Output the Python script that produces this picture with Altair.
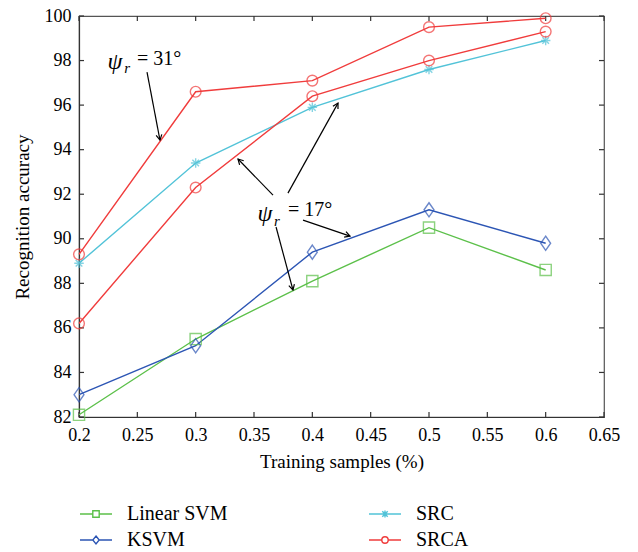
import altair as alt
import pandas as pd
import math

# ---- data ----
x_vals = [0.2, 0.3, 0.4, 0.5, 0.6]
linear_svm = [82.1, 85.5, 88.1, 90.5, 88.6]
ksvm = [83.0, 85.2, 89.4, 91.3, 89.8]
src = [88.9, 93.4, 95.9, 97.6, 98.9]
srca_31 = [89.3, 96.6, 97.1, 99.5, 99.9]
srca_17 = [86.2, 92.3, 96.4, 98.0, 99.3]

series_names = ["Linear SVM", "KSVM", "SRC", "SRCA"]
series_colors = ["#5cc04a", "#2c55b4", "#52c3d8", "#f03c3c"]

x_ticks = [0.2, 0.25, 0.3, 0.35, 0.4, 0.45, 0.5, 0.55, 0.6, 0.65]
y_ticks = [82, 84, 86, 88, 90, 92, 94, 96, 98, 100]

# annotation arrows (data units): start x, start y, end x, end y
arrow_x0 = [0.2583, 0.3663, 0.3791, 0.3920, 0.3689]
arrow_y0 = [97.48, 91.96, 92.05, 90.84, 90.53]
arrow_x1 = [0.2694, 0.3363, 0.4220, 0.4323, 0.3834]
arrow_y1 = [94.43, 93.58, 96.09, 90.12, 87.70]

W, H = 525, 401
XMIN, XMAX, YMIN, YMAX = 0.2, 0.65, 82, 100

rows = []
for name, grp, vals in [("Linear SVM", "lsvm", linear_svm), ("KSVM", "ksvm", ksvm),
                        ("SRC", "src", src), ("SRCA", "srca31", srca_31), ("SRCA", "srca17", srca_17)]:
    for xv, yv in zip(x_vals, vals):
        rows.append({"x": xv, "y": yv, "series": name, "grp": grp})
df = pd.DataFrame(rows)

px_x = W / (XMAX - XMIN)
px_y = H / (YMAX - YMIN)
arr = pd.DataFrame({"x0": arrow_x0, "y0": arrow_y0, "x1": arrow_x1, "y1": arrow_y1})
arr["ang"] = [
    math.degrees(math.atan2(-(b1 - b0) * px_y, (a1 - a0) * px_x)) % 360
    for a0, b0, a1, b1 in zip(arrow_x0, arrow_y0, arrow_x1, arrow_y1)
]

FONT = "Liberation Serif"

xs = alt.Scale(domain=[XMIN, XMAX], nice=False, zero=False)
ys = alt.Scale(domain=[YMIN, YMAX], nice=False, zero=False)
cs = alt.Scale(domain=series_names, range=series_colors)

X = alt.X("x:Q", scale=xs, axis=alt.Axis(values=x_ticks, title="Training samples (%)", ticks=False,
          labelPadding=9, titlePadding=8, labelFlush=False, labelOverlap=False,
          labelExpr="format(datum.value, '~g')"))
Y = alt.Y("y:Q", scale=ys, axis=alt.Axis(values=y_ticks, title="Recognition accuracy", ticks=False,
          labelPadding=8, titlePadding=12, labelFlush=False, labelOverlap=False))

base = alt.Chart(df)

lines = base.mark_line(strokeWidth=1.4).encode(
    x=X, y=Y, color=alt.Color("series:N", scale=cs, legend=None), detail="grp:N"
)

marker_paths = {
    "Linear SVM": "square",
    "KSVM": "M0,-1L0.7,0L0,1L-0.7,0Z",
    "SRC": "M-1,0L1,0M0,-1L0,1M-0.7,-0.7L0.7,0.7M-0.7,0.7L0.7,-0.7",
    "SRCA": "circle",
}
marker_sizes = {"Linear SVM": 125, "KSVM": 200, "SRC": 90, "SRCA": 115}

point_layers = []
for name in series_names:
    point_layers.append(
        base.transform_filter(alt.datum.series == name).mark_point(
            shape=marker_paths[name], filled=False, size=marker_sizes[name], strokeWidth=1.4
        ).encode(x=X, y=Y, color=alt.Color("series:N", scale=cs, legend=None))
    )

# legend symbols: line stub with marker (box of +-1 = 16px; stubs reach +-2 = 32px)
legend_paths = [
    "M-2,0L-0.4,0M0.4,0L2,0M-0.4,-0.4L0.4,-0.4L0.4,0.4L-0.4,0.4Z",
    "M-2,0L-0.4,0M0.4,0L2,0M0,-0.5L0.4,0L0,0.5L-0.4,0Z",
    "M-2,0L2,0M0,-0.45L0,0.45M-0.34,-0.34L0.34,0.34M-0.34,0.34L0.34,-0.34",
    "M-2,0L-0.4,0M0.4,0L2,0M0.4,0A0.4,0.4 0 1,1 -0.4,0A0.4,0.4 0 1,1 0.4,0Z",
]
leg = alt.Legend(title=None, orient="bottom", columns=2, direction="vertical",
                 offset=26, padding=7)
legend_layer = base.mark_point(filled=False, size=256, strokeWidth=1.4, opacity=0).encode(
    x=X, y=Y,
    stroke=alt.Stroke("series:N", scale=alt.Scale(domain=series_names, range=series_colors),
                      legend=leg),
    shape=alt.Shape("series:N", scale=alt.Scale(domain=series_names, range=legend_paths),
                    legend=leg),
)

ach = alt.Chart(arr)
arrow_lines = ach.mark_rule(color="black", strokeWidth=1.2).encode(
    x=alt.X("x0:Q", scale=xs), y=alt.Y("y0:Q", scale=ys), x2="x1:Q", y2="y1:Q"
)
arrow_heads = ach.mark_point(shape="M-1,-0.55L0,0L-1,0.55", filled=False, color="black",
                             size=110, strokeWidth=1.2, opacity=1).encode(
    x=alt.X("x1:Q", scale=xs), y=alt.Y("y1:Q", scale=ys), angle=alt.Angle("ang:Q", scale=None)
)

lab_psi_x = [0.2309, 0.3594]
lab_psi_y = [97.93, 91.11]
lab_r_x = [0.2412, 0.3697]
lab_r_y = [97.68, 90.78]
lab_eq_x = [0.2497, 0.3791]
lab_eq_y = [98.07, 91.29]
lab_eq_t = ["= 31°", "= 17°"]

lab = pd.DataFrame({"px": lab_psi_x, "py": lab_psi_y, "rx": lab_r_x, "ry": lab_r_y,
                    "ex": lab_eq_x, "ey": lab_eq_y, "et": lab_eq_t})
lch = alt.Chart(lab)
psi = lch.mark_text(text="ψ", font=FONT, fontStyle="italic", fontSize=24, color="black",
                    baseline="middle", align="center").encode(
    x=alt.X("px:Q", scale=xs), y=alt.Y("py:Q", scale=ys))
rsub = lch.mark_text(text="r", font=FONT, fontStyle="italic", fontSize=15, color="black",
                     baseline="middle", align="center").encode(
    x=alt.X("rx:Q", scale=xs), y=alt.Y("ry:Q", scale=ys))
eq = lch.mark_text(font=FONT, fontSize=20, color="black", baseline="middle", align="left").encode(
    x=alt.X("ex:Q", scale=xs), y=alt.Y("ey:Q", scale=ys), text="et:N")

# inward tick marks
xt = pd.DataFrame({"t": x_ticks})
yt = pd.DataFrame({"t": y_ticks})
tick_col = "#333333"
xb = alt.Chart(xt).mark_rule(color=tick_col, strokeWidth=1.2).encode(
    x=alt.X("t:Q", scale=xs), y=alt.value(H), y2=alt.value(H - 5))
xtp = alt.Chart(xt).mark_rule(color=tick_col, strokeWidth=1.2).encode(
    x=alt.X("t:Q", scale=xs), y=alt.value(0), y2=alt.value(5))
yl = alt.Chart(yt).mark_rule(color=tick_col, strokeWidth=1.2).encode(
    y=alt.Y("t:Q", scale=ys), x=alt.value(0), x2=alt.value(5))
yr = alt.Chart(yt).mark_rule(color=tick_col, strokeWidth=1.2).encode(
    y=alt.Y("t:Q", scale=ys), x=alt.value(W), x2=alt.value(W - 5))

chart = alt.layer(
    legend_layer, xb, xtp, yl, yr, lines, *point_layers,
    arrow_lines, arrow_heads, psi, rsub, eq
).properties(
    width=W, height=H,
    autosize=alt.AutoSizeParams(type="none"),
    padding={"left": 71, "top": 8, "right": 26, "bottom": 135},
).configure_view(
    stroke="#555555", strokeWidth=1.2
).configure_axis(
    labelFont=FONT, titleFont=FONT, labelFontSize=18, titleFontSize=19,
    labelColor="black", titleColor="black", titleFontWeight="normal",
    grid=False, domainColor="#333333", domainWidth=1.2
).configure_legend(
    labelFont=FONT, labelFontSize=20, labelColor="black", symbolOpacity=1,
    symbolSize=256, symbolStrokeWidth=1.4, symbolFillColor="transparent",
    columnPadding=138, rowPadding=6, labelOffset=21, labelLimit=200
)

chart.save("out.html", embed_options={"renderer": "svg", "actions": False})
